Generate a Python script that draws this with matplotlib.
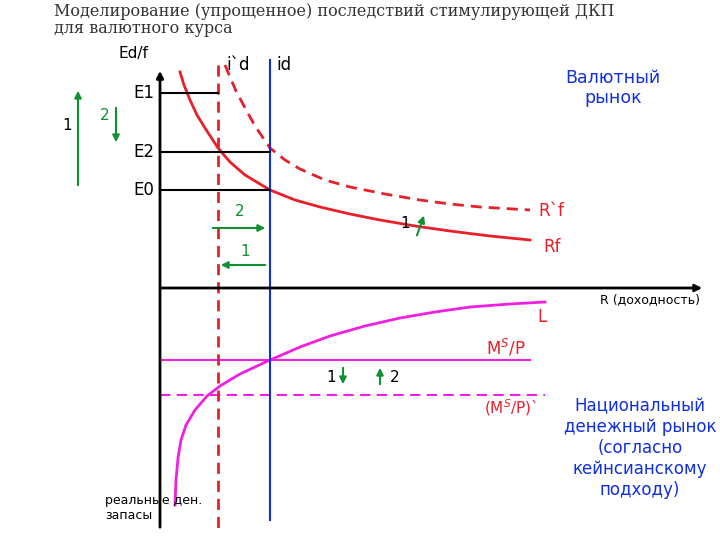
import matplotlib.pyplot as plt

# curve points (pixel coords, y down)
rf_x = [180, 184, 190, 197, 205, 218, 230, 245, 270, 295, 320, 350, 380, 415, 450, 490, 530]
rf_y = [72, 85, 100, 115, 128, 148, 162, 175, 190, 200, 207, 214, 220, 226, 231, 236, 240]
rf2_x = [225, 230, 236, 244, 255, 270, 285, 300, 325, 350, 385, 420, 450, 480, 530]
rf2_y = [65, 77, 91, 106, 126, 148, 160, 169, 180, 187, 194, 200, 204, 207, 210]
l_x = [175, 176, 178, 181, 186, 195, 207, 220, 240, 270, 300, 330, 365, 400, 435, 470, 510, 545]
l_y = [505, 480, 458, 440, 425, 410, 396, 386, 374, 360, 347, 336, 326, 318, 312, 307, 304, 302]
e_levels = {"E1": 93, "E2": 152, "E0": 190}
e_ends = {"E1": 218, "E2": 270, "E0": 270}
ms_y = 360
ms2_y = 395

red = "#e8202a"
mag = "#f020e0"
blue = "#1030e0"
green = "#109030"

fig = plt.figure(figsize=(7.2, 5.4), dpi=100)
ax = fig.add_axes([0, 0, 1, 1])
ax.set_xlim(0, 720)
ax.set_ylim(540, 0)
ax.axis("off")

fig.text(0.075, 0.995, "Моделирование (упрощенное) последствий стимулирующей ДКП\nдля валютного курса",
         fontsize=11.5, family="DejaVu Serif", va="top", color="#333333", linespacing=1.05)

# axes
ax.annotate("", xy=(160, 68), xytext=(160, 530), arrowprops=dict(arrowstyle="-|>", color="black", lw=2))
ax.annotate("", xy=(705, 288), xytext=(158, 288), arrowprops=dict(arrowstyle="-|>", color="black", lw=2))

ax.plot(rf_x, rf_y, color=red, lw=2)
ax.plot(rf2_x, rf2_y, color=red, lw=2, ls=(0, (4, 2.5)))
ax.plot(l_x, l_y, color=mag, lw=2)
ax.plot([160, 530], [ms_y, ms_y], color=mag, lw=1.5)
ax.plot([160, 545], [ms2_y, ms2_y], color=mag, lw=1.5, ls=(0, (5, 3)))
ax.plot([270, 270], [60, 520], color=blue, lw=1.5)
ax.plot([218, 218], [65, 530], color=red, lw=2, ls=(0, (4, 2.5)))

for k, y in e_levels.items():
    ax.plot([160, e_ends[k]], [y, y], color="black", lw=1.5)
    ax.text(133, y, k, fontsize=12, va="center")

ax.text(118, 58, "Ed/f", fontsize=11)
ax.text(226, 70, "i`d", fontsize=12)
ax.text(276, 70, "id", fontsize=12)
ax.text(613, 88, "Валютный\nрынок", fontsize=12.5, color=blue, ha="center", va="center")
ax.text(538, 216, "R`f", fontsize=12, color=red)
ax.text(543, 252, "Rf", fontsize=12, color=red)
ax.text(600, 303, "R (доходность)", fontsize=9)
ax.text(537, 322, "L", fontsize=12, color=red)
ax.text(486, 355, "M$^S$/P", fontsize=12, color=red)
ax.text(484, 413, "(M$^S$/P)`", fontsize=11, color=red)
ax.text(640, 448, "Национальный\nденежный рынок\n(согласно\nкейнсианскому\nподходу)", fontsize=12,
        color=blue, ha="center", va="center")
ax.text(105, 508, "реальные ден.\nзапасы", fontsize=9, va="center")

# green arrows and numbers
ax.annotate("", xy=(78, 88), xytext=(78, 188), arrowprops=dict(arrowstyle="-|>", color=green, lw=1.5))
ax.text(62, 130, "1", fontsize=11)
ax.annotate("", xy=(116, 145), xytext=(116, 105), arrowprops=dict(arrowstyle="-|>", color=green, lw=1.5))
ax.text(100, 120, "2", fontsize=11, color=green)
ax.annotate("", xy=(268, 228), xytext=(210, 228), arrowprops=dict(arrowstyle="-|>", color=green, lw=1.5))
ax.text(235, 216, "2", fontsize=11, color=green)
ax.annotate("", xy=(425, 213), xytext=(416, 238), arrowprops=dict(arrowstyle="-|>", color=green, lw=1.5))
ax.text(400, 228, "1", fontsize=11)
ax.annotate("", xy=(218, 265), xytext=(268, 265), arrowprops=dict(arrowstyle="-|>", color=green, lw=1.5))
ax.text(240, 256, "1", fontsize=11, color=green)
ax.annotate("", xy=(343, 387), xytext=(343, 365), arrowprops=dict(arrowstyle="-|>", color=green, lw=1.5))
ax.text(326, 382, "1", fontsize=11)
ax.annotate("", xy=(380, 365), xytext=(380, 387), arrowprops=dict(arrowstyle="-|>", color=green, lw=1.5))
ax.text(390, 382, "2", fontsize=11)

fig.savefig("out.png")
